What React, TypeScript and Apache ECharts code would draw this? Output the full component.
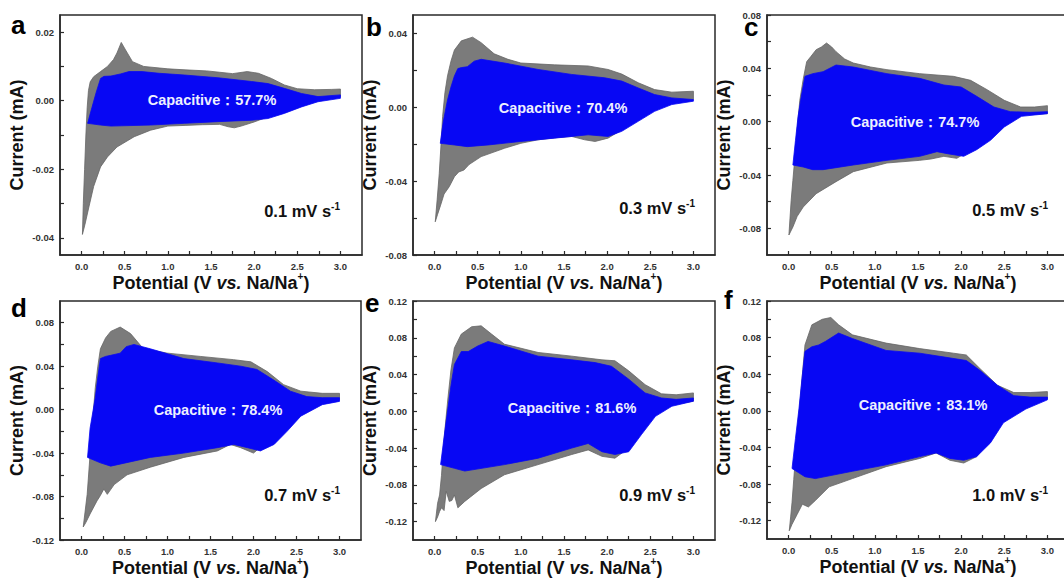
import React, { useEffect, useRef } from "react";
import * as echarts from "echarts";

const FONT = '"Liberation Sans", Arial, Helvetica, sans-serif';

// ---------- data (Potential V, Current mA) ----------
const aGrayUp = [[0.01,-0.039],[0.02,-0.03],[0.035,-0.02],[0.05,-0.01],[0.065,-0.002],[0.08,0.003],[0.1,0.0055],[0.14,0.007],[0.22,0.0085],[0.3,0.01],[0.37,0.012],[0.41,0.0139],[0.46,0.017],[0.51,0.0148],[0.59,0.0114],[0.72,0.01],[1.0,0.0093],[1.2,0.009],[1.45,0.0087],[1.6,0.0083],[1.75,0.0079],[1.92,0.0085],[2.05,0.008],[2.2,0.0065],[2.35,0.0046],[2.5,0.0035],[2.7,0.0032],[2.9,0.0033],[3.0,0.0034]];
const aGrayDown = [[3.0,0.0012],[2.8,0.0002],[2.55,-0.0008],[2.35,-0.0027],[2.16,-0.0047],[2.0,-0.0062],[1.85,-0.0074],[1.77,-0.0079],[1.7,-0.0076],[1.6,-0.0069],[1.4,-0.007],[1.2,-0.0072],[1.0,-0.0074],[0.8,-0.0086],[0.61,-0.0105],[0.41,-0.0135],[0.3,-0.0164],[0.22,-0.0193],[0.14,-0.025],[0.085,-0.031],[0.04,-0.036],[0.01,-0.039]];
const aBlueUp = [[0.07,-0.0066],[0.12,-0.002],[0.17,0.0025],[0.22,0.0065],[0.26,0.0071],[0.34,0.0072],[0.45,0.0078],[0.55,0.0085],[0.7,0.0085],[0.9,0.008],[1.19,0.0075],[1.58,0.0067],[1.97,0.0056],[2.16,0.005],[2.35,0.0036],[2.55,0.0021],[2.74,0.0012],[3.0,0.0017]];
const aBlueDown = [[3.0,0.0007],[2.74,-0.0003],[2.55,-0.0018],[2.35,-0.0037],[2.16,-0.0052],[1.97,-0.0057],[1.58,-0.0061],[1.19,-0.0066],[0.8,-0.0071],[0.34,-0.0074],[0.22,-0.0071],[0.07,-0.0066]];

const bGrayUp = [[0.008,-0.062],[0.03,-0.05],[0.054,-0.036],[0.075,-0.02],[0.093,-0.005],[0.12,0.008],[0.15,0.017],[0.19,0.025],[0.23,0.031],[0.31,0.036],[0.44,0.038],[0.54,0.035],[0.69,0.029],[0.85,0.026],[1.0,0.024],[1.39,0.023],[1.78,0.0224],[2.01,0.0205],[2.17,0.018],[2.36,0.0133],[2.55,0.0096],[2.75,0.0082],[3.0,0.0087]];
const bGrayDown = [[3.0,0.0042],[2.75,0.0035],[2.55,0.0005],[2.36,-0.0049],[2.17,-0.0122],[2.01,-0.0167],[1.86,-0.0185],[1.74,-0.0176],[1.59,-0.0158],[1.4,-0.0165],[1.2,-0.0176],[1.0,-0.0195],[0.81,-0.0222],[0.54,-0.0267],[0.4,-0.031],[0.34,-0.034],[0.28,-0.035],[0.23,-0.0376],[0.17,-0.043],[0.11,-0.047],[0.07,-0.053],[0.035,-0.058],[0.008,-0.062]];
const bBlueUp = [[0.066,-0.0195],[0.1,-0.008],[0.15,0.004],[0.19,0.011],[0.23,0.017],[0.27,0.021],[0.31,0.0215],[0.38,0.022],[0.46,0.025],[0.54,0.026],[0.81,0.024],[1.2,0.0205],[1.59,0.0178],[1.97,0.016],[2.17,0.0142],[2.36,0.0105],[2.55,0.0069],[2.75,0.0051],[3.0,0.0042]];
const bBlueDown = [[3.0,0.0033],[2.75,0.0015],[2.55,-0.0022],[2.36,-0.0076],[2.17,-0.013],[2.01,-0.0158],[1.78,-0.0149],[1.39,-0.0167],[1.0,-0.0185],[0.62,-0.0204],[0.38,-0.0213],[0.23,-0.0204],[0.066,-0.0195]];

const cGrayUp = [[0.004,-0.085],[0.03,-0.059],[0.05,-0.044],[0.07,-0.029],[0.1,-0.006],[0.13,0.016],[0.17,0.032],[0.21,0.045],[0.26,0.049],[0.32,0.054],[0.38,0.056],[0.44,0.059],[0.5,0.056],[0.55,0.0525],[0.65,0.047],[0.75,0.044],[0.95,0.041],[1.14,0.039],[1.52,0.036],[1.91,0.034],[2.11,0.031],[2.3,0.024],[2.5,0.016],[2.69,0.011],[2.85,0.011],[3.0,0.012]];
const cGrayDown = [[3.0,0.006],[2.69,0.005],[2.5,-0.001],[2.3,-0.011],[2.11,-0.021],[1.95,-0.0275],[1.8,-0.026],[1.65,-0.028],[1.52,-0.029],[1.14,-0.031],[0.75,-0.0375],[0.55,-0.045],[0.32,-0.054],[0.17,-0.064],[0.1,-0.071],[0.05,-0.079],[0.004,-0.085]];
const cBlueUp = [[0.05,-0.0325],[0.08,-0.014],[0.11,0.004],[0.15,0.02],[0.19,0.034],[0.28,0.036],[0.4,0.0375],[0.55,0.0425],[0.75,0.041],[1.14,0.036],[1.52,0.0325],[1.8,0.0275],[2.0,0.026],[2.18,0.019],[2.38,0.011],[2.57,0.0075],[2.8,0.007],[3.0,0.0075]];
const cBlueDown = [[3.0,0.006],[2.7,0.004],[2.5,-0.004],[2.34,-0.014],[2.18,-0.021],[2.03,-0.026],[1.84,-0.024],[1.72,-0.0225],[1.52,-0.026],[1.14,-0.029],[0.75,-0.0325],[0.4,-0.036],[0.28,-0.036],[0.17,-0.034],[0.05,-0.0325]];

const dGrayUp = [[0.02,-0.108],[0.04,-0.095],[0.066,-0.078],[0.1,-0.041],[0.13,-0.01],[0.16,0.02],[0.19,0.04],[0.22,0.056],[0.28,0.066],[0.34,0.072],[0.45,0.076],[0.57,0.07],[0.72,0.056],[1.0,0.052],[1.38,0.049],[1.77,0.046],[1.97,0.044],[2.16,0.035],[2.35,0.023],[2.55,0.017],[2.8,0.015],[3.0,0.015]];
const dGrayDown = [[3.0,0.009],[2.75,0.009],[2.55,0.0015],[2.35,-0.0137],[2.16,-0.029],[2.0,-0.04],[1.85,-0.035],[1.73,-0.032],[1.58,-0.038],[1.19,-0.044],[0.8,-0.053],[0.53,-0.06],[0.38,-0.069],[0.3,-0.078],[0.26,-0.073],[0.22,-0.079],[0.18,-0.084],[0.1,-0.096],[0.05,-0.104],[0.02,-0.108]];
const dBlueUp = [[0.07,-0.044],[0.1,-0.017],[0.16,0.011],[0.19,0.03],[0.22,0.047],[0.28,0.049],[0.34,0.05],[0.45,0.052],[0.52,0.058],[0.61,0.06],[0.8,0.056],[1.19,0.047],[1.58,0.043],[1.85,0.04],[2.04,0.037],[2.24,0.027],[2.43,0.017],[2.62,0.012],[2.8,0.011],[3.0,0.011]];
const dBlueDown = [[3.0,0.0076],[2.8,0.0046],[2.55,-0.006],[2.39,-0.02],[2.24,-0.032],[2.08,-0.038],[1.93,-0.035],[1.77,-0.032],[1.58,-0.035],[1.19,-0.04],[0.8,-0.044],[0.34,-0.052],[0.22,-0.049],[0.07,-0.044]];

const eGrayUp = [[0.01,-0.12],[0.035,-0.1],[0.058,-0.091],[0.08,-0.07],[0.097,-0.047],[0.125,-0.015],[0.155,0.0145],[0.19,0.045],[0.23,0.069],[0.31,0.084],[0.43,0.092],[0.54,0.093],[0.66,0.084],[0.81,0.073],[1.2,0.064],[1.59,0.06],[1.94,0.056],[2.09,0.055],[2.25,0.044],[2.44,0.029],[2.63,0.019],[2.8,0.018],[3.0,0.02]];
const eGrayDown = [[3.0,0.011],[2.75,0.007],[2.56,-0.002],[2.4,-0.022],[2.25,-0.04],[2.09,-0.051],[1.94,-0.049],[1.78,-0.042],[1.59,-0.047],[1.2,-0.058],[0.81,-0.069],[0.54,-0.084],[0.35,-0.098],[0.27,-0.105],[0.23,-0.091],[0.2,-0.097],[0.17,-0.098],[0.135,-0.087],[0.11,-0.108],[0.08,-0.105],[0.058,-0.109],[0.035,-0.115],[0.01,-0.12]];
const eBlueUp = [[0.07,-0.058],[0.11,-0.028],[0.155,0.0036],[0.19,0.028],[0.23,0.051],[0.31,0.065],[0.39,0.065],[0.5,0.071],[0.62,0.076],[0.81,0.071],[1.2,0.06],[1.59,0.056],[1.86,0.053],[2.05,0.049],[2.25,0.035],[2.44,0.02],[2.63,0.0145],[2.8,0.013],[3.0,0.0145]];
const eBlueDown = [[3.0,0.011],[2.75,0.0055],[2.56,-0.0055],[2.4,-0.025],[2.25,-0.044],[2.09,-0.047],[1.94,-0.044],[1.78,-0.035],[1.59,-0.04],[1.2,-0.051],[0.81,-0.058],[0.35,-0.065],[0.23,-0.062],[0.07,-0.058]];

const fGrayUp = [[0.008,-0.131],[0.025,-0.115],[0.04,-0.1],[0.06,-0.075],[0.08,-0.05],[0.11,-0.015],[0.14,0.017],[0.165,0.045],[0.19,0.072],[0.27,0.094],[0.39,0.1],[0.49,0.102],[0.58,0.094],[0.74,0.083],[1.13,0.074],[1.52,0.068],[1.91,0.063],[2.06,0.061],[2.22,0.046],[2.42,0.028],[2.61,0.02],[2.8,0.02],[3.0,0.021]];
const fGrayDown = [[3.0,0.013],[2.75,0.009],[2.49,-0.009],[2.34,-0.031],[2.18,-0.05],[2.03,-0.057],[1.87,-0.054],[1.71,-0.046],[1.52,-0.052],[1.13,-0.061],[0.74,-0.074],[0.47,-0.083],[0.31,-0.098],[0.23,-0.105],[0.16,-0.102],[0.1,-0.113],[0.04,-0.124],[0.008,-0.131]];
const fBlueUp = [[0.04,-0.063],[0.08,-0.03],[0.12,0.002],[0.155,0.035],[0.19,0.065],[0.27,0.07],[0.35,0.072],[0.43,0.076],[0.58,0.085],[0.74,0.079],[1.13,0.066],[1.52,0.063],[1.79,0.059],[2.06,0.055],[2.22,0.044],[2.42,0.028],[2.61,0.0166],[2.8,0.015],[3.0,0.015]];
const fBlueDown = [[3.0,0.012],[2.75,0.002],[2.49,-0.013],[2.34,-0.035],[2.18,-0.05],[2.03,-0.054],[1.87,-0.052],[1.71,-0.046],[1.52,-0.05],[1.13,-0.059],[0.74,-0.066],[0.31,-0.074],[0.19,-0.072],[0.04,-0.063]];

// tick labels
const xTickLabels = [0, 0.5, 1.0, 1.5, 2.0, 2.5, 3.0];
const yTicksA = [-0.04, -0.02, 0.0, 0.02];
const yTicksB = [-0.08, -0.04, 0.0, 0.04];
const yTicksC = [-0.08, -0.04, 0.0, 0.04, 0.08];
const yTicksD = [-0.12, -0.08, -0.04, 0.0, 0.04, 0.08];
const yTicksE = [-0.12, -0.08, -0.04, 0.0, 0.04, 0.08, 0.12];
const yTicksF = [-0.12, -0.08, -0.04, 0.0, 0.04, 0.08, 0.12];

const letters = ["a", "b", "c", "d", "e", "f"];
const scanRates = ["0.1", "0.3", "0.5", "0.7", "0.9", "1.0"];
const capacitive = ["57.7%", "70.4%", "74.7%", "78.4%", "81.6%", "83.1%"];

const panels = [
  { gray: [aGrayUp, aGrayDown], blue: [aBlueUp, aBlueDown], yMin: -0.045, yMax: 0.025, yTicks: yTicksA, left: 60, top: 15, width: 302, height: 240,
    letter: [11, 34], rate: [340, 211], cap: [212, 100] },
  { gray: [bGrayUp, bGrayDown], blue: [bBlueUp, bBlueDown], yMin: -0.08, yMax: 0.05, yTicks: yTicksB, left: 413, top: 15, width: 302, height: 240,
    letter: [366, 36], rate: [695, 208], cap: [563, 108] },
  { gray: [cGrayUp, cGrayDown], blue: [cBlueUp, cBlueDown], yMin: -0.1, yMax: 0.08, yTicks: yTicksC, left: 767, top: 15, width: 302, height: 240,
    letter: [744, 36], rate: [1048, 210], cap: [915, 122] },
  { gray: [dGrayUp, dGrayDown], blue: [dBlueUp, dBlueDown], yMin: -0.12, yMax: 0.1, yTicks: yTicksD, left: 60, top: 301, width: 301, height: 239,
    letter: [11, 317], rate: [340, 495], cap: [218, 410] },
  { gray: [eGrayUp, eGrayDown], blue: [eBlueUp, eBlueDown], yMin: -0.14, yMax: 0.12, yTicks: yTicksE, left: 413, top: 301, width: 302, height: 239,
    letter: [365, 312], rate: [695, 495], cap: [572, 408] },
  { gray: [fGrayUp, fGrayDown], blue: [fBlueUp, fBlueDown], yMin: -0.14, yMax: 0.12, yTicks: yTicksF, left: 767, top: 301, width: 302, height: 238,
    letter: [724, 309], rate: [1048, 495], cap: [923, 405] },
];

const GRAY = "#7b7b7b";
const BLUE = "#0707f4";
const AXIS = "#2a2a2a";

function withMinor(major: number[], lo: number, hi: number) {
  const out: number[] = [];
  for (let i = 0; i < major.length; i++) {
    out.push(major[i]);
    if (i < major.length - 1) out.push((major[i] + major[i + 1]) / 2);
  }
  const step = (major[1] - major[0]) / 2;
  if (major[0] - step > lo + 1e-9) out.unshift(major[0] - step);
  if (major[major.length - 1] + step < hi - 1e-9) out.push(major[major.length - 1] + step);
  return out;
}

function loopSeries(idx: number, loop: number[][], color: string, stroke: string, z: number) {
  return {
    type: "custom",
    coordinateSystem: "cartesian2d",
    xAxisIndex: idx,
    yAxisIndex: idx,
    data: loop,
    clip: true,
    silent: true,
    z,
    renderItem: (params: any, api: any) => {
      if (params.dataIndex !== 0) return null;
      const pts = loop.map((p) => api.coord(p));
      return {
        type: "polygon",
        shape: { points: pts },
        style: { fill: color, stroke, lineWidth: 0.8 },
      };
    },
  };
}

export default function App() {
  const ref = useRef<HTMLDivElement>(null);
  useEffect(() => {
    if (!ref.current) return;
    const chart = echarts.init(ref.current, null, { renderer: "svg" });
    const grids: any[] = [];
    const xAxes: any[] = [];
    const yAxes: any[] = [];
    const series: any[] = [];
    const graphics: any[] = [];

    panels.forEach((p, i) => {
      grids.push({
        left: p.left, top: p.top, width: p.width, height: p.height,
        show: true, borderColor: AXIS, borderWidth: 1.5, backgroundColor: "transparent",
      });
      xAxes.push({
        type: "value", gridIndex: i, min: -0.25, max: 3.25,
        name: "{n|Potential (V }{i|vs.}{n| Na/Na}{s|+}{n|)}",
        nameLocation: "middle", nameGap: 14,
        nameTextStyle: {
          rich: {
            n: { fontFamily: FONT, fontWeight: "bold", fontSize: 18, color: "#111", lineHeight: 22 },
            i: { fontFamily: FONT, fontWeight: "bold", fontStyle: "italic", fontSize: 18, color: "#111", lineHeight: 22 },
            s: { fontFamily: FONT, fontWeight: "bold", fontSize: 10, color: "#111", verticalAlign: "top", lineHeight: 12 },
          },
        },
        axisLine: { onZero: false, lineStyle: { color: AXIS, width: 1.5 } },
        axisTick: { inside: true, length: 4, lineStyle: { color: AXIS, width: 1.2 }, customValues: withMinor(xTickLabels, -0.25, 3.25).filter((v) => v >= 0 && v <= 3) },
        axisLabel: {
          customValues: xTickLabels, margin: 6, fontFamily: FONT, fontWeight: "bold", fontSize: 9.5, color: "#333",
          formatter: (v: number) => v.toFixed(1),
        },
        splitLine: { show: false },
      });
      yAxes.push({
        type: "value", gridIndex: i, min: p.yMin, max: p.yMax,
        name: "Current (mA)", nameLocation: "middle", nameGap: 34, nameRotate: 90,
        nameTextStyle: { fontFamily: FONT, fontWeight: "bold", fontSize: 18, color: "#111" },
        axisLine: { onZero: false, lineStyle: { color: AXIS, width: 1.5 } },
        axisTick: { inside: true, length: 4, lineStyle: { color: AXIS, width: 1.2 }, customValues: withMinor(p.yTicks, p.yMin, p.yMax) },
        axisLabel: {
          customValues: p.yTicks, margin: 6, fontFamily: FONT, fontWeight: "bold", fontSize: 9.5, color: "#333",
          formatter: (v: number) => (Math.abs(v) < 1e-9 ? "0.00" : v.toFixed(2)),
        },
        splitLine: { show: false },
      });
      series.push(loopSeries(i, p.gray[0].concat(p.gray[1]), GRAY, "#666666", 2));
      series.push(loopSeries(i, p.blue[0].concat(p.blue[1]), BLUE, BLUE, 3));

      graphics.push({
        type: "text", x: p.letter[0], y: p.letter[1] - 9, z: 10,
        style: { text: letters[i], fontFamily: FONT, fontWeight: "bold", fontSize: 26, lineHeight: 12, fill: "#000", align: "left", verticalAlign: "middle" },
      });
      graphics.push({
        type: "text", x: p.rate[0], y: p.rate[1], z: 10,
        style: {
          text: "{a|" + scanRates[i] + " mV s}{b|-1}", align: "right", verticalAlign: "middle",
          rich: {
            a: { fontFamily: FONT, fontWeight: "bold", fontSize: 16.5, fill: "#111", lineHeight: 20 },
            b: { fontFamily: FONT, fontWeight: "bold", fontSize: 10, fill: "#111", verticalAlign: "top", lineHeight: 12 },
          },
        },
      });
      graphics.push({
        type: "text", x: p.cap[0], y: p.cap[1], z: 10,
        style: {
          text: "Capacitive：" + capacitive[i], align: "center", verticalAlign: "middle",
          fontFamily: FONT, fontWeight: "bold", fontSize: 14.5, fill: "#eef0ff",
        },
      });
    });

    chart.setOption({
      animation: false,
      backgroundColor: "#ffffff",
      grid: grids,
      xAxis: xAxes,
      yAxis: yAxes,
      series,
      graphic: graphics,
    });
    return () => chart.dispose();
  }, []);
  return (
    <div style={{ position: "fixed", left: 0, top: 0, width: 1064, height: 578, overflow: "hidden", background: "#fff" }}>
      <div ref={ref} style={{ width: 1090, height: 578 }} />
    </div>
  );
}
